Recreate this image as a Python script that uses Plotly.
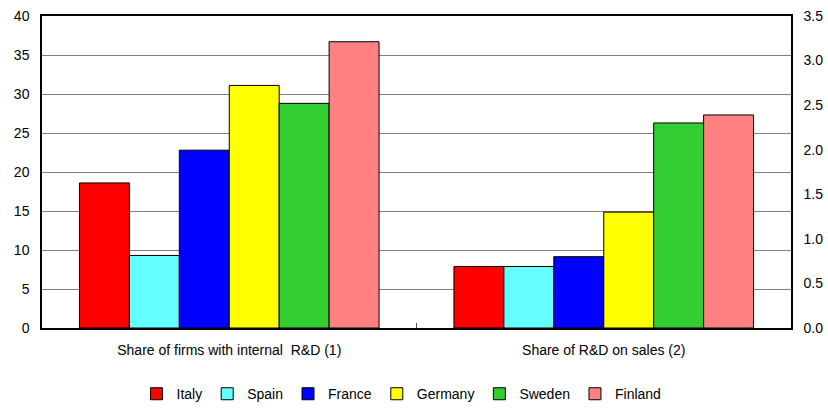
import plotly.graph_objects as go

categories = ["Share of firms with internal  R&D (1)", "Share of R&D on sales (2)"]
countries = ["Italy", "Spain", "France", "Germany", "Sweden", "Finland"]
colors = ["#FF0000", "#66FFFF", "#0000FF", "#FFFF00", "#33CC33", "#FF8080"]
firms_with_rd = [18.6, 9.3, 22.8, 31.1, 28.8, 36.7]      # left axis, %
rd_on_sales = [0.69, 0.69, 0.80, 1.30, 2.30, 2.39]       # right axis, %

FONT = "Liberation Sans, Arial, sans-serif"

fig = go.Figure()
for name, col, v1, v2 in zip(countries, colors, firms_with_rd, rd_on_sales):
    fig.add_trace(go.Bar(
        x=[categories[0]], y=[v1], name=name, legendgroup=name,
        marker=dict(color=col, line=dict(color="#000000", width=1)),
        yaxis="y", offsetgroup=name,
    ))
    fig.add_trace(go.Bar(
        x=[categories[1]], y=[v2], name=name, legendgroup=name, showlegend=False,
        marker=dict(color=col, line=dict(color="#000000", width=1)),
        yaxis="y2", offsetgroup=name,
    ))

fig.update_layout(
    width=828, height=409,
    margin=dict(l=42, r=37, t=16, b=81, autoexpand=False),
    paper_bgcolor="white", plot_bgcolor="white",
    barmode="group", bargap=0.2, bargroupgap=0,
    font=dict(family=FONT, size=14, color="#000000"),
    showlegend=True,
    legend=dict(orientation="h", x=0.48, xanchor="center", y=-0.212, yanchor="middle",
                font=dict(size=14), traceorder="normal", tracegroupgap=0),
    xaxis=dict(
        type="category", categoryorder="array", categoryarray=categories,
        showline=True, linecolor="#000000", linewidth=1.5, mirror=True,
        ticks="inside", ticklen=5, tickcolor="#555555", tickson="boundaries",
        showgrid=False, tickfont=dict(size=14), ticklabelstandoff=8, automargin=False,
    ),
    yaxis=dict(
        range=[0, 40], dtick=5, showline=True, linecolor="#000000", linewidth=1.5,
        showgrid=True, gridcolor="#808080", gridwidth=1, ticks="",
        zeroline=False, tickfont=dict(size=14), ticklabelstandoff=8, automargin=False,
    ),
    yaxis2=dict(
        range=[0, 3.5], dtick=0.5, tickformat=".1f", overlaying="y", side="right",
        showline=True, linecolor="#000000", linewidth=1.5, showgrid=False,
        ticks="", zeroline=False, tickfont=dict(size=14), ticklabelstandoff=8,
        automargin=False,
    ),
)

fig.write_html("out.html")
